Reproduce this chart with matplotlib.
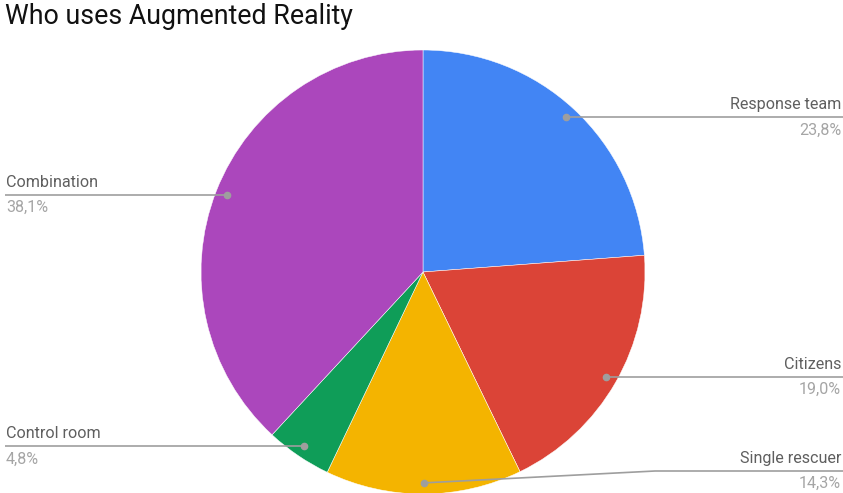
import matplotlib
matplotlib.use("Agg")
import matplotlib.pyplot as plt
import numpy as np

plt.rcParams['font.family'] = ['Roboto', 'DejaVu Sans']

title = "Who uses Augmented Reality"
categories = ["Response team", "Citizens", "Single rescuer", "Control room", "Combination"]
shares = [23.8, 19.0, 14.3, 4.8, 38.1]
colors = ["#4285F4", "#DB4437", "#F4B400", "#0F9D58", "#AB47BC"]

W, H = 843, 493
fig = plt.figure(figsize=(W / 100, H / 100), dpi=100)
ax = fig.add_axes([0, 0, 1, 1])
ax.set_xlim(0, W)
ax.set_ylim(0, H)
ax.set_aspect('equal')
ax.axis('off')

cx, cy, R = 423, H - 272, 222
wedges, _ = ax.pie(shares, colors=colors, startangle=90, counterclock=False,
                   center=(cx, cy), radius=R, frame=True,
                   wedgeprops=dict(edgecolor='white', linewidth=0.35))
ax.set_xlim(0, W)
ax.set_ylim(0, H)
ax.axis('off')

line_col = "#9e9e9e"
name_col = "#5f5f5f"
pct_col = "#a5a5a5"
fs = 11.6

# label line height overrides (pixels from top) where labels are pushed aside
label_line_y = {"Single rescuer": 471}
elbow_x = 655

for w, name, val in zip(wedges, categories, shares):
    mid = np.deg2rad((w.theta1 + w.theta2) / 2)
    r = 0.95 * R
    px, py = cx + r * np.cos(mid), cy + r * np.sin(mid)
    right = np.cos(mid) >= 0
    ly = H - label_line_y[name] if name in label_line_y else py
    if right:
        if name in label_line_y:
            xs, ys = [px, elbow_x, W], [py, ly, ly]
        else:
            xs, ys = [px, W], [py, py]
        tx, ha = W - 2, 'right'
    else:
        xs, ys = [px, 5], [py, py]
        tx, ha = 6, 'left'
    ax.plot(xs, ys, color=line_col, lw=1.2, solid_capstyle='butt', zorder=3)
    ax.plot([px], [py], 'o', color=line_col, ms=4.5, zorder=4)
    ax.text(tx, ly + 5, name, ha=ha, va='bottom', fontsize=fs, color=name_col)
    pct = f"{val:.1f}".replace('.', ',') + "%"
    ax.text(tx, ly - 5, pct, ha=ha, va='top', fontsize=fs, color=pct_col)

fig.text(5 / W, 1 - 17 / H, title, ha='left', va='center', fontsize=19.3, color='#111111')

fig.savefig("out.png", dpi=100, facecolor='white')
